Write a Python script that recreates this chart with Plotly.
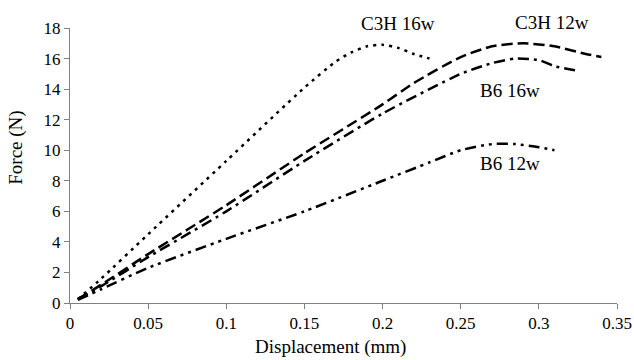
import plotly.graph_objects as go

# C3H 16w (dotted)
c3h16_x = [0.005, 0.02, 0.05, 0.1, 0.15, 0.17, 0.18, 0.19, 0.2, 0.21, 0.22, 0.23]
c3h16_y = [0.25, 1.6, 4.5, 9.3, 14.1, 15.8, 16.4, 16.8, 16.9, 16.7, 16.3, 16.0]

# C3H 12w (long dash)
c3h12_x = [0.005, 0.02, 0.05, 0.1, 0.15, 0.2, 0.22, 0.25, 0.27, 0.29, 0.31, 0.33, 0.34]
c3h12_y = [0.25, 1.2, 3.2, 6.4, 9.8, 13.0, 14.4, 16.1, 16.8, 17.0, 16.8, 16.3, 16.1]

# B6 16w (dash-dot)
b616_x = [0.005, 0.02, 0.05, 0.1, 0.15, 0.2, 0.25, 0.27, 0.285, 0.3, 0.31, 0.325]
b616_y = [0.25, 1.1, 3.0, 6.0, 9.3, 12.4, 15.0, 15.7, 16.0, 15.9, 15.5, 15.2]

# B6 12w (dash-dot-dot)
b612_x = [0.005, 0.02, 0.05, 0.1, 0.15, 0.2, 0.23, 0.25, 0.27, 0.285, 0.3, 0.31]
b612_y = [0.2, 0.9, 2.3, 4.2, 6.0, 8.0, 9.2, 10.0, 10.4, 10.4, 10.2, 10.0]

labels = ["C3H 16w", "C3H 12w", "B6 16w", "B6 12w"]
label_x = [0.21, 0.3085, 0.2816, 0.2816]
label_y = [18.3, 18.35, 13.9, 9.15]

x_ticks = [0, 0.05, 0.1, 0.15, 0.2, 0.25, 0.3, 0.35]
x_tick_text = ["0", "0.05", "0.1", "0.15", "0.2", "0.25", "0.3", "0.35"]
y_ticks = [0, 2, 4, 6, 8, 10, 12, 14, 16, 18]

x_title = "Displacement (mm)"
y_title = "Force (N)"

FONT = "Liberation Serif"
Y_MAX = 18

fig = go.Figure()
series = [
    (c3h16_x, c3h16_y, "3px,5px"),
    (c3h12_x, c3h12_y, "11px,5px"),
    (b616_x, b616_y, "11px,5px,3px,5px"),
    (b612_x, b612_y, "11px,5px,3px,5px,3px,5px"),
]
for (xs, ys, dash), name in zip(series, labels):
    fig.add_trace(go.Scatter(x=xs, y=ys, mode="lines", name=name,
                             line=dict(color="black", width=2.5, dash=dash, shape="spline", smoothing=0.6)))

for t, lx, ly in zip(labels, label_x, label_y):
    fig.add_annotation(x=lx, y=ly / Y_MAX, yref="paper", xanchor="center", yanchor="middle",
                       text=t, showarrow=False,
                       font=dict(family=FONT, size=19, color="black"))

# axis titles placed as annotations so that margins stay fixed
fig.add_annotation(x=0.476, y=-0.16, xref="paper", yref="paper", xanchor="center", yanchor="middle",
                   text=x_title, showarrow=False, font=dict(family=FONT, size=19, color="black"))
fig.add_annotation(x=-0.099, y=0.564, xref="paper", yref="paper", xanchor="center", yanchor="middle",
                   text=y_title, textangle=-90, showarrow=False,
                   font=dict(family=FONT, size=19, color="black"))

axis_common = dict(showline=True, linecolor="#808080", linewidth=1, ticks="outside",
                   tickcolor="#808080", ticklen=5, showgrid=False, zeroline=False, automargin=False,
                   tickfont=dict(family=FONT, size=17, color="black"))

fig.update_layout(
    width=634, height=360,
    margin=dict(l=70, r=17, t=28, b=57),
    paper_bgcolor="white", plot_bgcolor="white",
    showlegend=False,
    xaxis=dict(range=[0, 0.35], tickvals=x_ticks, ticktext=x_tick_text, **axis_common),
    yaxis=dict(range=[0, Y_MAX], tickvals=y_ticks, **axis_common),
)

fig.write_html("out.html", config={"displayModeBar": False},
               post_script="document.body.style.margin='0';document.body.style.overflow='hidden';")
